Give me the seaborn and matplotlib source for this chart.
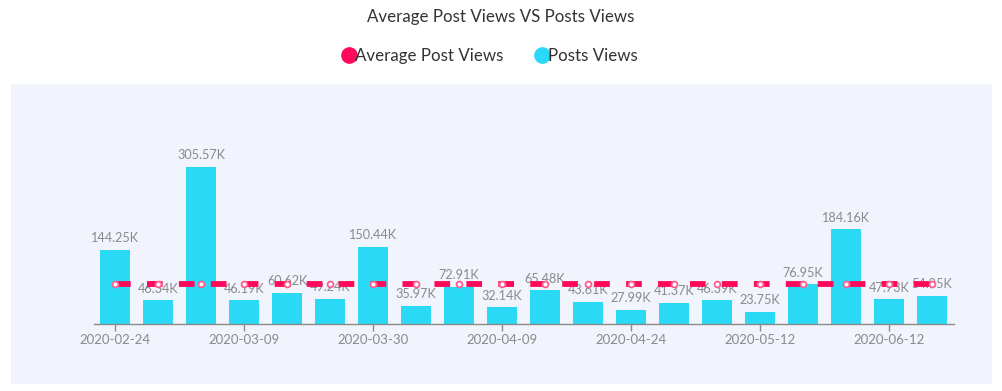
import matplotlib
matplotlib.use("Agg")
import matplotlib.pyplot as plt
from matplotlib.patches import Rectangle
from matplotlib.lines import Line2D
import seaborn as sns
import pandas as pd

dates = ["2020-02-24", "2020-02-29", "2020-03-04", "2020-03-09", "2020-03-16",
         "2020-03-23", "2020-03-30", "2020-04-02", "2020-04-06", "2020-04-09",
         "2020-04-14", "2020-04-19", "2020-04-24", "2020-04-30", "2020-05-06",
         "2020-05-12", "2020-05-22", "2020-06-01", "2020-06-12", "2020-06-20"]
posts_views = [144.25, 46.34, 305.57, 46.19, 60.62, 49.24, 150.44, 35.97, 72.91, 32.14,
               65.48, 43.61, 27.99, 41.37, 46.39, 23.75, 76.95, 184.16, 47.73, 54.95]
average_views = [77.80, 77.80, 77.80, 77.80, 77.80, 77.80, 77.80, 77.80, 77.80, 77.80,
                 77.80, 77.80, 77.80, 77.80, 77.80, 77.80, 77.80, 77.80, 77.80, 77.80]
shown_ticks = ["2020-02-24", "2020-03-09", "2020-03-30", "2020-04-09",
               "2020-04-24", "2020-05-12", "2020-06-12"]

df = pd.DataFrame({"date": dates, "views": posts_views, "avg": average_views})

sns.set_theme(style="white")
plt.rcParams["font.family"] = ["Lato", "DejaVu Sans"]
plt.rcParams["lines.scale_dashes"] = False

CYAN = "#2ad9f5"
RED = "#ff0a5a"
GREY = "#8a8a8a"

W, H = 1002, 391
fig = plt.figure(figsize=(W / 100, H / 100), dpi=100)
fig.patch.set_facecolor("white")
fig.patches.append(Rectangle((11 / W, 1 - 384 / H), (992 - 11) / W, (384 - 84) / H,
                             transform=fig.transFigure, facecolor="#f1f4fc",
                             edgecolor="none", zorder=-5))

ax = fig.add_axes([93.5 / W, 1 - 324 / H, 860 / W, 220 / H])
ax.set_facecolor("none")
ax.set_zorder(2)

sns.barplot(data=df, x="date", y="views", order=dates, color=CYAN, width=0.7,
            saturation=1, ax=ax, zorder=2)
for p in ax.patches:
    p.set_edgecolor("none")

sns.lineplot(data=df, x="date", y="avg", ax=ax, color=RED, linewidth=4.2,
             marker="o", markersize=4.2, markerfacecolor="white",
             markeredgecolor="#ff5c90", markeredgewidth=1.3, zorder=4, sort=False)
line = ax.lines[-1]
line.set_dashes((11.3, 11.7))
line.set_dash_capstyle("butt")

for i, v in enumerate(posts_views):
    ax.annotate(f"{v:.2f}K", (i, v), xytext=(0, 4), textcoords="offset points",
                ha="center", va="bottom", fontsize=9.1, color=GREY, zorder=3)

ax.set_xlim(-0.5, len(dates) - 0.5)
ax.set_ylim(0, 428)
ax.set_yticks([])
ax.set_ylabel("")
ax.set_xlabel("")
tick_pos = [dates.index(d) for d in shown_ticks]
ax.set_xticks(tick_pos)
ax.set_xticklabels(shown_ticks, fontsize=9.5, color=GREY)
ax.tick_params(axis="x", length=5, width=1, color=GREY, pad=2, bottom=True)
for s in ["top", "right", "left"]:
    ax.spines[s].set_visible(False)
ax.spines["bottom"].set_color(GREY)
ax.spines["bottom"].set_linewidth(1)

fig.text(0.5, 1 - 17 / H, "Average Post Views VS Posts Views", ha="center",
         va="center", fontsize=12.2, color="#333333")

handles = [Line2D([], [], marker="o", linestyle="none", markersize=11,
                  markerfacecolor=RED, markeredgecolor=RED),
           Line2D([], [], marker="o", linestyle="none", markersize=11,
                  markerfacecolor=CYAN, markeredgecolor=CYAN)]
fig.legend(handles, ["Average Post Views", "Posts Views"], loc="center",
           bbox_to_anchor=(491 / W, 1 - 56 / H), ncol=2, frameon=False,
           handlelength=0.6, handletextpad=0.05, columnspacing=2.0,
           prop={"size": 12.2}, labelcolor="#333333")

fig.savefig("out.png", dpi=100)
